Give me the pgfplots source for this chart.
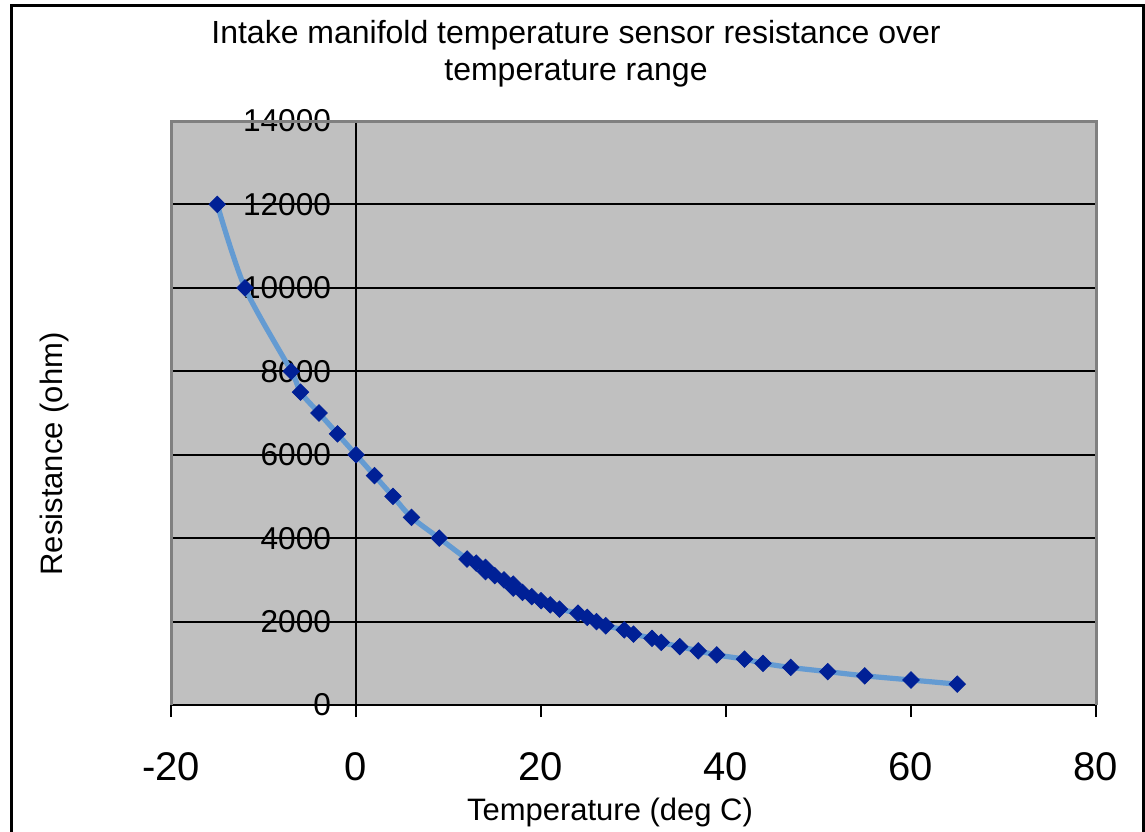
\documentclass[border=0pt]{standalone}
\usepackage{pgfplots}
\pgfplotsset{compat=1.18}
\usepackage{pgfplotstable}
\usepackage{fontspec}
\setmainfont{Liberation Sans}
\definecolor{bggray}{RGB}{192,192,192}
\definecolor{bordergray}{RGB}{128,128,128}
\definecolor{linecol}{RGB}{100,155,210}
\definecolor{markcol}{RGB}{0,32,150}
\pgfplotstableread{
T R
-15 12000
-12 10000
-7 8000
-6 7500
-4 7000
-2 6500
0 6000
2 5500
4 5000
6 4500
9 4000
12 3500
13 3400
14 3300
14 3200
15 3100
16 3000
17 2900
17 2800
18 2700
19 2600
20 2500
21 2400
22 2300
24 2200
25 2100
26 2000
27 1900
29 1800
30 1700
32 1600
33 1500
35 1400
37 1300
39 1200
42 1100
44 1000
47 900
51 800
55 700
60 600
65 500
}\datatable
\begin{document}
\begin{tikzpicture}
\useasboundingbox (0,0) rectangle (572.5pt,-415.5pt);
\draw[line width=1.5pt] (5.75pt,-2.5pt) rectangle (571.75pt,-440pt);
\node[align=center, font=\fontsize{16}{18.5}\selectfont] at (288pt,-27pt) {Intake manifold temperature sensor resistance over\\temperature range};
\node[font=\fontsize{15.5}{18}\selectfont] at (305pt,-406pt) {Temperature (deg C)};
\node[rotate=90, font=\fontsize{15.5}{18}\selectfont] at (27pt,-227pt) {Resistance (ohm)};
\begin{axis}[
  at={(85.5pt,-352.5pt)}, anchor=south west,
  scale only axis, width=462.5pt, height=292pt,
  xmin=-20, xmax=80, ymin=0, ymax=14000,
  axis x line=bottom, axis y line=middle,
  axis line style={-, black, line width=1pt},
  hide obscured x ticks=false, hide obscured y ticks=false,
  axis background/.style={fill=bggray},
  xtick={-20,0,...,80}, ytick={0,2000,...,14000},
  scaled ticks=false,
  tick align=outside,
  major tick length=6pt,
  tick style={black, line width=0.8pt},
  ymajorgrids, grid style={black, line width=1pt},
  /pgf/number format/assume math mode=true,
  /pgf/number format/.cd, fixed, 1000 sep={}, /tikz/.cd,
  xticklabel style={font=\fontsize{20}{24}\selectfont, yshift=-14pt},
  yticklabel style={font=\fontsize{15.8}{18}\selectfont, xshift=-3pt},
  clip=false,
]
\addplot[linecol, line width=2.6pt, smooth] table[x=T,y=R] {\datatable};
\addplot[only marks, mark=square*, mark size=2.9pt, mark options={rotate=45, fill=markcol, draw=markcol}] table[x=T,y=R] {\datatable};
\draw[bordergray, line width=1.5pt] (rel axis cs:0,0) -- (rel axis cs:0,1) -- (rel axis cs:1,1) -- (rel axis cs:1,0);
\end{axis}
\end{tikzpicture}
\end{document}
